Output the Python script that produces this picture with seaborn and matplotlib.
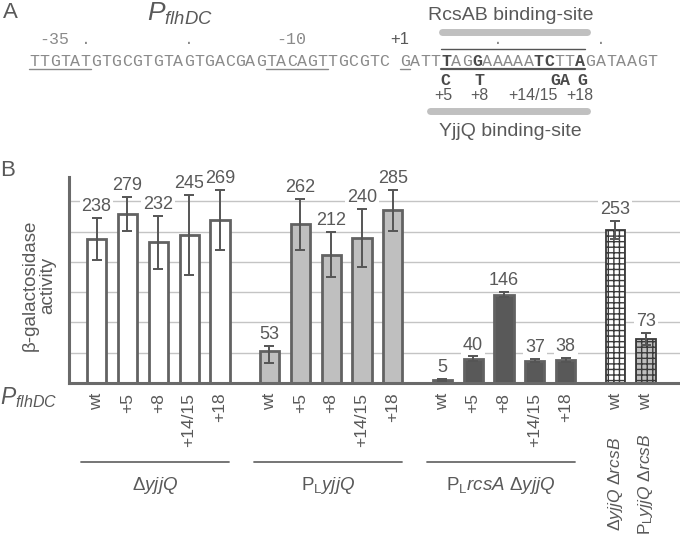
import numpy as np
import pandas as pd
import matplotlib.pyplot as plt
import matplotlib.transforms as mtransforms
import seaborn as sns

# ---------------------------------------------------------------
# data
# ---------------------------------------------------------------
promoters = ['wt', '+5', '+8', '+14/15', '+18']

act_dyjjq = [238, 279, 232, 245, 269]
err_dyjjq = [(35, 35), (28, 28), (44, 44), (66, 66), (50, 50)]

act_plyjjq = [53, 262, 212, 240, 285]
err_plyjjq = [(20, 8), (42, 42), (37, 37), (48, 48), (34, 34)]

act_plrcsa = [5, 40, 146, 37, 38]
err_plrcsa = [(1.5, 1.5), (4, 4), (4, 4), (3, 3), (4, 4)]

act_rcsb = [253, 73]
err_rcsb = [(15, 15), (10, 10)]
rcsb_strains = [r'$\Delta yjjQ\ \Delta rcsB$', r'$\mathrm{P_L}yjjQ\ \Delta rcsB$']

group_names = [r'$\Delta yjjQ$', r'$\mathrm{P_L}yjjQ$', r'$\mathrm{P_L}rcsA\ \Delta yjjQ$']

# panel A sequence
seq = 'TTGTATGTGCGTGTAGTGACGAGTACAGTTGCGTC GATTTAGGAAAAATCTTAGATAAGT'
bold_idx = [40, 43, 49, 50, 53]
mut_letters = ['C', 'T', 'GA', 'G']
mut_labels = ['+5', '+8', '+14/15', '+18']

# ---------------------------------------------------------------
# style
# ---------------------------------------------------------------
sns.set_theme(style='white')
plt.rcParams['font.family'] = ['Liberation Sans', 'DejaVu Sans']
plt.rcParams['mathtext.fontset'] = 'custom'
plt.rcParams['mathtext.rm'] = 'Liberation Sans'
plt.rcParams['mathtext.it'] = 'Liberation Sans:italic'
plt.rcParams['mathtext.bf'] = 'Liberation Sans:bold'
plt.rcParams['hatch.linewidth'] = 1.0

TXT = '#595959'
EDGE = '#626262'
W, H = 680, 538


def px(x, y):
    return x / W, 1 - y / H


# ---------------------------------------------------------------
# build table
# ---------------------------------------------------------------
groups = [
    (promoters, act_dyjjq, err_dyjjq, 'white'),
    (promoters, act_plyjjq, err_plyjjq, 'light'),
    (promoters, act_plrcsa, err_plrcsa, 'dark'),
    (['wt', 'wt'], act_rcsb, err_rcsb, None),
]
gap = 1.6
rows = []
cur = 0.0
for gi, (labs, vals, errs, fill) in enumerate(groups):
    for i, (lab, v, e) in enumerate(zip(labs, vals, errs)):
        f = fill if fill else ['white_h', 'light_h'][i]
        rows.append(dict(pos=round(cur + i, 3), value=v, lo=e[0], hi=e[1],
                         label=lab, fill=f, group=gi))
    cur += len(labs) - 1 + gap
df = pd.DataFrame(rows)

palette = {'white': 'white', 'light': '#bfbfbf', 'dark': '#595959',
           'white_h': 'white', 'light_h': '#bfbfbf'}

fig = plt.figure(figsize=(6.8, 5.38), dpi=100)
ax = fig.add_axes([69 / W, 1 - 383 / H, 1 - 69 / W, 206 / H])

sns.barplot(data=df, x='pos', y='value', hue='fill', palette=palette,
            native_scale=True, dodge=False, width=0.62, errorbar=None,
            edgecolor=EDGE, linewidth=2.0, legend=False, ax=ax, zorder=2)

# hatch the rcsB bars
hatched = df.loc[df['group'] == 3, 'pos'].values
for p in ax.patches:
    xc = p.get_x() + p.get_width() / 2
    if np.min(np.abs(hatched - xc)) < 0.2:
        p.set_hatch('+++')
        p.set_edgecolor('#3a3a3a')
        p.set_linewidth(1.3)

ax.errorbar(df['pos'], df['value'], yerr=[df['lo'], df['hi']], fmt='none',
            ecolor='#555555', elinewidth=1.4, capsize=3.5, capthick=1.4,
            zorder=3)

for _, r in df.iterrows():
    ax.annotate(f"{r['value']:.0f}", (r['pos'], r['value'] + r['hi']),
                xytext=(0, 2), textcoords='offset points', ha='center',
                va='bottom', fontsize=13, color=TXT, zorder=4,
                bbox=dict(boxstyle='square,pad=0.1', fc='white', ec='none'))

ax.set_ylim(0, 340)
ax.set_xlim((69 - 96.5) / 30.87, (W - 96.5) / 30.87)
ax.set_yticks(np.arange(50, 301, 50))
ax.set_yticklabels([])
ax.yaxis.grid(True, color='#c4c4c4', linewidth=1.0)
ax.set_axisbelow(True)
ax.set_xticks(df['pos'])
ax.set_xticklabels(df['label'], rotation=90, fontsize=12.5, color=TXT)
ax.tick_params(axis='x', length=0, pad=7)
ax.tick_params(axis='y', length=0)
ax.set_xlabel('')
ax.set_ylabel('')
for s in ['top', 'right']:
    ax.spines[s].set_visible(False)
for s in ['left', 'bottom']:
    ax.spines[s].set_color('#6a6a6a')
    ax.spines[s].set_linewidth(2.2)

ax.text(*px(39, 285), u'\u03b2-galactosidase\nactivity', transform=fig.transFigure,
        rotation=90, ha='center', va='center', fontsize=13.5, color=TXT,
        linespacing=1.1)
fig.text(*px(29, 398), r'$P_{flhDC}$', ha='center', va='center',
         fontsize=16.5, color=TXT)

# group underlines and names
blend = mtransforms.blended_transform_factory(ax.transData, fig.transFigure)
for gi, name in enumerate(group_names):
    g = df[df['group'] == gi]['pos']
    ax.plot([g.min() - 0.5, g.max() + 0.3], [1 - 462 / H] * 2, color='#6a6a6a',
            lw=1.3, transform=blend, clip_on=False)
    ax.text((g.min() + g.max()) / 2 - 0.1, 1 - 485 / H, name, transform=blend,
            ha='center', va='center', fontsize=13.5, color=TXT)
for pos, name in zip(hatched, rcsb_strains):
    ax.text(pos, 1 - 484 / H, name, transform=blend, rotation=90,
            ha='center', va='center', fontsize=12.5, color=TXT)

# ---------------------------------------------------------------
# panel A
# ---------------------------------------------------------------
fig.text(*px(3, 13), 'A', fontsize=16, color=TXT, va='center')
fig.text(*px(0, 170), 'B', fontsize=16, color=TXT, va='center')
fig.text(*px(180, 14), r'$P_{flhDC}$', fontsize=19, color=TXT,
         ha='center', va='center')

x0, pitch, ybase = 29, 10.3, 66
for k, ch in enumerate(seq):
    b = k in bold_idx
    fig.text(*px(x0 + k * pitch + pitch / 2, ybase), ch, family='Liberation Mono',
             fontsize=12, color='#4a4a4a' if b else '#8a8a8a',
             weight='bold' if b else 'normal', ha='center', va='baseline')


def hline(x1, x2, y, color='#8a8a8a', lw=1.0):
    fig.add_artist(plt.Line2D([x1 / W, x2 / W], [1 - y / H] * 2, color=color,
                              lw=lw, transform=fig.transFigure))


for a, b in [(0, 6), (23, 29), (36, 37)]:
    hline(x0 + a * pitch, x0 + b * pitch, 69)
hline(x0 + 40 * pitch, x0 + 54 * pitch, 69, color='#555555', lw=1.6)
hline(x0 + 40 * pitch, x0 + 54 * pitch, 49, color='#555555', lw=1.0)
hline(442, 587, 32.5, color='#c0c0c0', lw=5)
hline(430, 587, 111, color='#c0c0c0', lw=5)

mono = dict(family='Liberation Mono', fontsize=12, color='#8a8a8a',
            ha='center', va='baseline')
fig.text(*px(54, 44), '-35', **mono)
fig.text(*px(291, 44), '-10', **mono)
for k in [5, 15, 45, 55]:
    fig.text(*px(x0 + k * pitch + pitch / 2, 44), '.', **mono)
fig.text(*px(400, 40), '+1', fontsize=12, color=TXT, ha='center', va='center')

for xc, ch, lab, xl in zip([445, 479, 560, 582], mut_letters, mut_labels,
                           [443, 479, 533, 580]):
    fig.text(*px(xc, 85), ch, family='Liberation Mono', fontsize=12,
             weight='bold', color='#4a4a4a', ha='center', va='baseline')
    fig.text(*px(xl, 95), lab, fontsize=11.5, color=TXT, ha='center',
             va='center')

fig.text(*px(511, 15), 'RcsAB binding-site', fontsize=14, color=TXT,
         ha='center', va='center')
fig.text(*px(510, 132), 'YjjQ binding-site', fontsize=14, color=TXT,
         ha='center', va='center')

fig.savefig('out.png', dpi=100)
